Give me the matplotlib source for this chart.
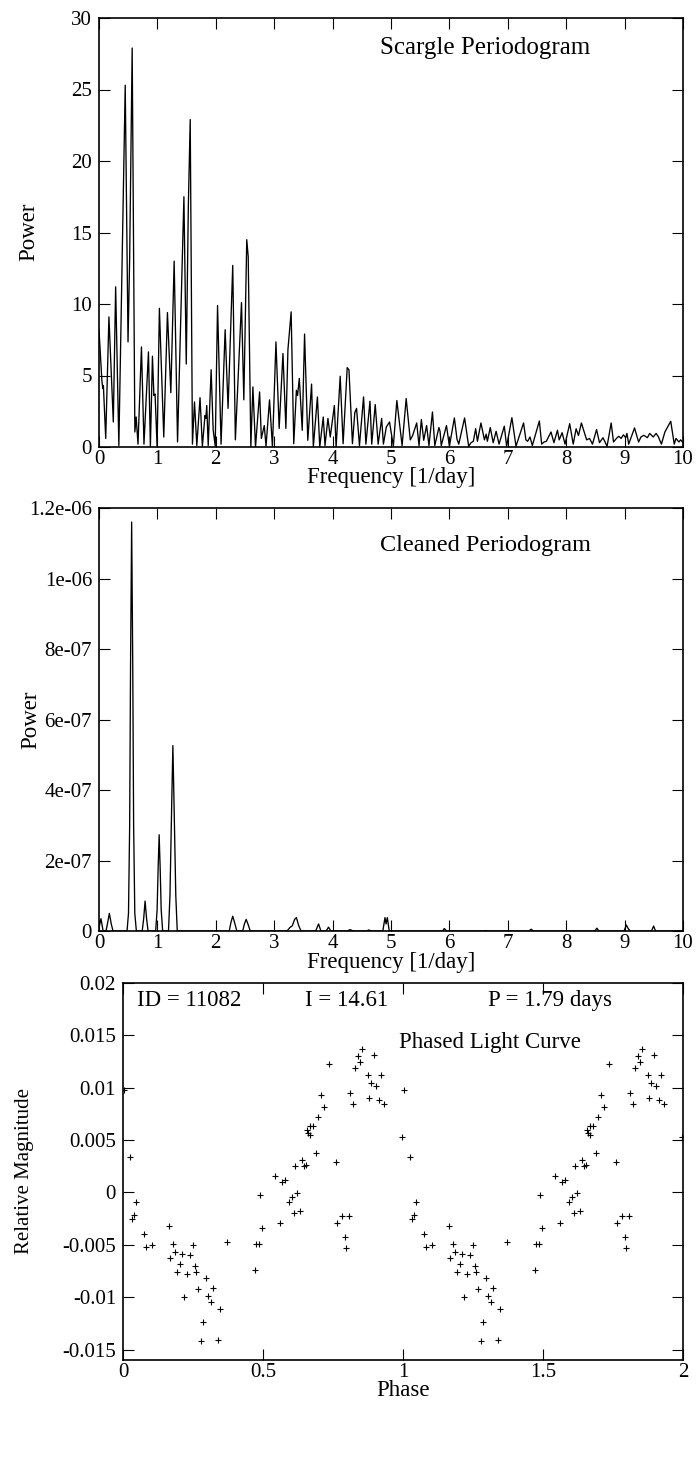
import matplotlib
matplotlib.use("Agg")
import matplotlib.pyplot as plt
from matplotlib.ticker import FixedLocator, FuncFormatter

plt.rcParams['font.family'] = ['Liberation Serif', 'DejaVu Serif']
plt.rcParams['axes.unicode_minus'] = False

# ---------------- data ----------------
scargle_freq = [0.0, 0.05, 0.065, 0.075, 0.115, 0.17, 0.245, 0.285, 0.34, 0.449,
                0.497, 0.525, 0.568, 0.614, 0.636, 0.668, 0.727, 0.77, 0.847, 0.88,
                0.915, 0.94, 0.96, 0.995, 1.034, 1.109, 1.172, 1.23, 1.287, 1.345,
                1.454, 1.494, 1.53, 1.562, 1.6, 1.635, 1.675, 1.73, 1.77, 1.815,
                1.83, 1.845, 1.87, 1.92, 1.955, 1.99, 2.03, 2.09, 2.16, 2.21,
                2.29, 2.335, 2.44, 2.48, 2.53, 2.555, 2.6, 2.635, 2.68, 2.75,
                2.78, 2.83, 2.86, 2.92, 2.97, 3.03, 3.085, 3.15, 3.2, 3.235,
                3.29, 3.335, 3.38, 3.40, 3.43, 3.48, 3.52, 3.575, 3.64, 3.67,
                3.74, 3.78, 3.84, 3.87, 3.92, 3.96, 4.03, 4.06, 4.13, 4.18,
                4.25, 4.28, 4.34, 4.38, 4.41, 4.46, 4.53, 4.57, 4.64, 4.67,
                4.73, 4.78, 4.84, 4.87, 4.92, 4.975, 5.04, 5.1, 5.19, 5.26,
                5.33, 5.37, 5.44, 5.48, 5.52, 5.56, 5.61, 5.65, 5.71, 5.75,
                5.82, 5.84, 5.86, 5.95, 6.0, 6.085, 6.13, 6.16, 6.26, 6.33,
                6.37, 6.41, 6.45, 6.48, 6.54, 6.6, 6.63, 6.65, 6.7, 6.75,
                6.8, 6.85, 6.94, 6.98, 7.07, 7.14, 7.27, 7.31, 7.34, 7.38,
                7.42, 7.54, 7.58, 7.62, 7.66, 7.74, 7.79, 7.85, 7.88, 7.93,
                7.98, 8.06, 8.12, 8.17, 8.21, 8.26, 8.35, 8.40, 8.45, 8.52,
                8.57, 8.63, 8.7, 8.77, 8.81, 8.86, 8.9, 8.94, 8.98, 9.02,
                9.04, 9.07, 9.17, 9.24, 9.28, 9.33, 9.39, 9.43, 9.49, 9.54,
                9.58, 9.63, 9.69, 9.79, 9.85, 9.88, 9.93, 9.96, 10.0]
scargle_power = [8.2, 4.6, 4.1, 4.3, 0.6, 9.1, 1.75, 11.2, 0.1, 25.3,
                 7.35, 13.2, 27.9, 1.05, 2.1, 0.2, 7.0, 0.2, 6.65, 0.0,
                 6.35, 3.6, 3.7, 0.0, 9.7, 0.7, 9.4, 3.8, 13.0, 0.35,
                 17.5, 5.8, 16.9, 22.9, 0.2, 3.15, 0.1, 3.45, 0.05, 2.2,
                 2.0, 2.9, 0.1, 5.4, 1.2, 0.05, 9.9, 0.2, 8.2, 2.7,
                 12.7, 0.5, 10.1, 3.3, 14.5, 13.3, 0.0, 4.2, 0.0, 3.85,
                 0.6, 1.5, 0.05, 3.3, 0.0, 7.35, 1.3, 6.54, 1.3, 6.8,
                 9.45, 0.23, 3.97, 3.6, 4.8, 1.17, 7.9, 0.47, 4.4, 0.0,
                 3.5, 0.0, 2.1, 0.1, 2.0, 0.7, 2.9, 0.0, 4.95, 0.23,
                 5.55, 5.4, 0.23, 2.4, 2.7, 0.1, 3.5, 0.2, 3.2, 0.2,
                 2.97, 0.2, 2.0, 0.2, 1.4, 1.75, 0.05, 3.25, 0.1, 3.39,
                 0.5, 0.8, 1.68, 0.1, 1.92, 0.47, 1.5, 0.1, 2.45, 0.1,
                 1.36, 1.1, 0.1, 1.5, 0.05, 2.03, 0.55, 0.2, 2.03, 0.05,
                 0.3, 0.4, 1.28, 0.4, 1.68, 0.5, 0.9, 0.4, 1.36, 0.3,
                 1.1, 0.2, 1.45, 0.05, 2.05, 0.05, 1.68, 0.5, 0.4, 0.7,
                 0.1, 1.82, 0.2, 0.35, 0.4, 1.05, 0.3, 1.17, 0.5, 1.0,
                 0.2, 1.63, 0.2, 1.28, 0.8, 1.68, 0.5, 0.6, 0.2, 1.22,
                 0.3, 0.65, 0.05, 1.68, 0.35, 0.6, 0.75, 0.6, 0.85, 0.65,
                 0.95, 0.2, 1.33, 0.35, 0.7, 0.82, 0.65, 0.95, 0.7, 0.95,
                 0.7, 0.2, 1.05, 1.8, 0.2, 0.6, 0.35, 0.5, 0.3]

clean_freq = [0.0, 0.034, 0.07, 0.12, 0.15, 0.177, 0.21, 0.24, 0.48, 0.505,
              0.525, 0.54, 0.559, 0.578, 0.593, 0.613, 0.64, 0.74, 0.765, 0.789,
              0.815, 0.84, 0.97, 0.995, 1.013, 1.03, 1.047, 1.065, 1.09, 1.19,
              1.215, 1.245, 1.265, 1.285, 1.315, 1.34, 2.23, 2.26, 2.29, 2.32,
              2.36, 2.46, 2.49, 2.52, 2.55, 2.59, 3.22, 3.27, 3.31, 3.35,
              3.38, 3.42, 3.46, 3.71, 3.76, 3.8, 3.89, 3.93, 3.97, 4.25,
              4.3, 4.35, 4.58, 4.62, 4.66, 4.86, 4.897, 4.915, 4.937, 4.97,
              5.88, 5.914, 5.95, 6.58, 6.62, 6.66, 7.36, 7.4, 7.44, 8.49,
              8.526, 8.56, 8.99, 9.03, 9.05, 9.07, 9.1, 9.46, 9.497, 9.53,
              10.0]
clean_power_e7 = [0.1, 0.35, 0.0, 0.0, 0.25, 0.5, 0.2, 0.0, 0.0, 0.5,
                  3.0, 7.5, 11.6, 7.5, 3.0, 0.5, 0.0, 0.0, 0.35, 0.85,
                  0.35, 0.0, 0.0, 0.6, 1.8, 2.73, 1.8, 0.6, 0.0, 0.0,
                  1.0, 3.6, 5.26, 3.6, 1.0, 0.0, 0.0, 0.25, 0.42, 0.25,
                  0.0, 0.0, 0.2, 0.33, 0.2, 0.0, 0.0, 0.1, 0.15, 0.33,
                  0.38, 0.15, 0.0, 0.0, 0.2, 0.0, 0.0, 0.11, 0.0, 0.0,
                  0.04, 0.0, 0.0, 0.03, 0.0, 0.0, 0.38, 0.2, 0.38, 0.0,
                  0.0, 0.07, 0.0, 0.0, 0.01, 0.0, 0.0, 0.05, 0.0, 0.0,
                  0.08, 0.0, 0.0, 0.17, 0.1, 0.05, 0.0, 0.0, 0.14, 0.0,
                  0.0]

phase = [0.004, 0.024, 0.032, 0.038, 0.048, 0.075, 0.083, 0.104, 0.164, 0.169,
         0.177, 0.187, 0.202, 0.193, 0.212, 0.219, 0.230, 0.238, 0.250, 0.258,
         0.260, 0.268, 0.277, 0.286, 0.295, 0.304, 0.313, 0.321, 0.339, 0.348,
         0.373, 0.470, 0.476, 0.486, 0.488, 0.498, 0.542, 0.562, 0.569, 0.579,
         0.593, 0.602, 0.612, 0.613, 0.621, 0.631, 0.638, 0.645, 0.652, 0.657,
         0.662, 0.667, 0.669, 0.679, 0.688, 0.696, 0.708, 0.717, 0.735, 0.760,
         0.765, 0.782, 0.792, 0.798, 0.806, 0.811, 0.820, 0.829, 0.838, 0.846,
         0.855, 0.876, 0.880, 0.886, 0.897, 0.903, 0.916, 0.921, 0.933, 0.998]
rel_mag = [0.0098, 0.00343, -0.00254, -0.00216, -0.00089, -0.00401, -0.00521, -0.00499, -0.00318, -0.00626,
           -0.00496, -0.00566, -0.00684, -0.00763, -0.00588, -0.01002, -0.00782, -0.00598, -0.00499, -0.0070,
           -0.00763, -0.00922, -0.01415, -0.01234, -0.00814, -0.00986, -0.01049, -0.00909, -0.01405, -0.01113,
           -0.00477, -0.00738, -0.00493, -0.0049, -0.00025, -0.00337, 0.00159, -0.00293, 0.00095, 0.00121,
           -0.00092, -0.00048, -0.00197, 0.00254, -0.0001, -0.00175, 0.00312, 0.00254, 0.00264, 0.00598,
           0.00572, 0.00636, 0.00547, 0.00636, 0.00375, 0.00722, 0.00928, 0.00814, 0.01224, 0.00289,
           -0.00293, -0.00223, -0.00429, -0.00528, -0.00223, 0.00954, 0.00843, 0.01186, 0.0130, 0.0125,
           0.0137, 0.01119, 0.0090, 0.01043, 0.01313, 0.01017, 0.00884, 0.01119, 0.00843, 0.00525]

freq_ticks = [0, 1, 2, 3, 4, 5, 6, 7, 8, 9, 10]
scargle_yticks = [0, 5, 10, 15, 20, 25, 30]
clean_yticks = [0, 2e-7, 4e-7, 6e-7, 8e-7, 1e-6, 1.2e-6]
phase_ticks = [0, 0.5, 1, 1.5, 2]
mag_ticks = [-0.015, -0.01, -0.005, 0, 0.005, 0.01, 0.015, 0.02]

# ---------------- figure ----------------
W, H = 699, 1475
fig = plt.figure(figsize=(W / 100, H / 100), dpi=100)


def rect(l, t, r, b):
    return [l / W, 1 - b / H, (r - l) / W, (b - t) / H]


def fy(y):
    return 1 - y / H


def fx(x):
    return x / W


gfmt = FuncFormatter(lambda v, p: '%g' % v)


def style(ax, xt, yt):
    ax.xaxis.set_major_locator(FixedLocator(xt))
    ax.yaxis.set_major_locator(FixedLocator(yt))
    ax.xaxis.set_major_formatter(gfmt)
    ax.yaxis.set_major_formatter(gfmt)
    ax.tick_params(which='major', direction='in', length=8, width=0.8,
                   top=True, right=True, labelsize=15, color='black')
    ax.tick_params(axis='x', pad=2)
    ax.tick_params(axis='y', pad=5)
    for s in ax.spines.values():
        s.set_linewidth(1.2)


TXT = 16.5

# Top: Scargle periodogram
ax1 = fig.add_axes(rect(99, 18, 683, 447))
ax1.plot(scargle_freq, scargle_power, color='black', lw=0.95)
ax1.set_xlim(0, 10)
ax1.set_ylim(0, 30)
style(ax1, freq_ticks, scargle_yticks)
fig.text(fx(380), fy(54), 'Scargle Periodogram', fontsize=18, ha='left', va='baseline')
fig.text(fx(391), fy(478), 'Frequency [1/day]', fontsize=TXT, ha='center', va='center')
fig.text(fx(29), fy(232), 'Power', fontsize=TXT, ha='center', va='center', rotation=90)

# Middle: cleaned periodogram
ax2 = fig.add_axes(rect(99, 508, 683, 931))
ax2.plot(clean_freq, [v * 1e-7 for v in clean_power_e7], color='black', lw=0.95)
ax2.set_xlim(0, 10)
ax2.set_ylim(0, 1.2e-6)
style(ax2, freq_ticks, clean_yticks)
fig.text(fx(380), fy(551), 'Cleaned Periodogram', fontsize=17.5, ha='left', va='baseline')
fig.text(fx(391), fy(962), 'Frequency [1/day]', fontsize=TXT, ha='center', va='center')
fig.text(fx(31), fy(720), 'Power', fontsize=TXT, ha='center', va='center', rotation=90)

# Bottom: phased light curve
ax3 = fig.add_axes(rect(123, 983, 683, 1360))
ax3.plot(phase, rel_mag, ls='none', marker='+', ms=5, mew=0.8, color='black')
ax3.plot([p + 1 for p in phase], rel_mag, ls='none', marker='+', ms=5, mew=0.8, color='black')
ax3.set_xlim(0, 2)
ax3.set_ylim(-0.016, 0.02)
style(ax3, phase_ticks, mag_ticks)
fig.text(fx(137), fy(1006), 'ID = 11082', fontsize=TXT, ha='left', va='baseline')
fig.text(fx(305), fy(1006), 'I = 14.61', fontsize=TXT, ha='left', va='baseline')
fig.text(fx(488), fy(1006), 'P = 1.79 days', fontsize=TXT, ha='left', va='baseline')
fig.text(fx(399), fy(1048), 'Phased Light Curve', fontsize=TXT, ha='left', va='baseline')
fig.text(fx(403), fy(1391), 'Phase', fontsize=TXT, ha='center', va='center')
fig.text(fx(25), fy(1171), 'Relative Magnitude', fontsize=15, ha='center', va='center', rotation=90)

fig.savefig('out.png', dpi=100)
